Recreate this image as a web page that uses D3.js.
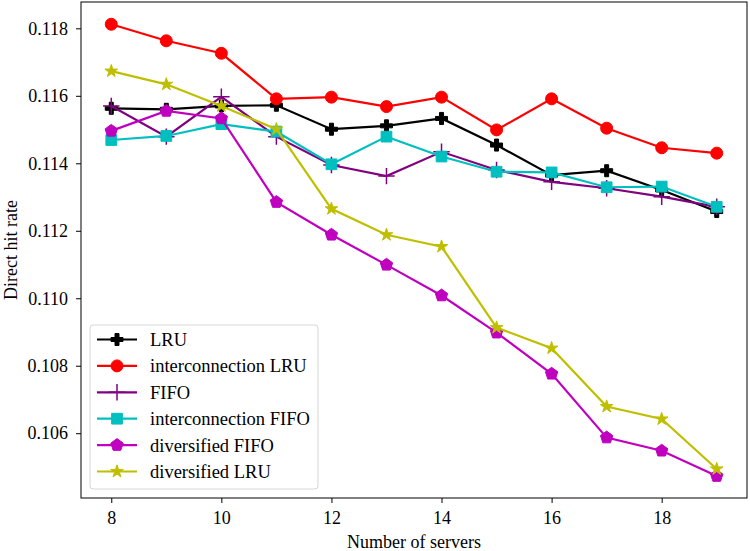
<!DOCTYPE html>
<html>
<head>
<meta charset="utf-8">
<script src="https://cdn.jsdelivr.net/npm/d3@7"></script>
<style>
  body { margin: 0; background: #fff; }
  svg { font-family: "Liberation Serif", "Times New Roman", serif; }
</style>
</head>
<body>
<div id="chart"></div>
<script>
// 1. DATA
const servers = [8, 9, 10, 11, 12, 13, 14, 15, 16, 17, 18, 19]
const lru = [0.11563, 0.11560, 0.11570, 0.11572, 0.11501, 0.11511, 0.11533, 0.11454, 0.11365, 0.11378, 0.11321, 0.11257]
const interLru = [0.11812, 0.11763, 0.11726, 0.11591, 0.11596, 0.11568, 0.11596, 0.11499, 0.11591, 0.11504, 0.11446, 0.11430]
const fifo = [0.11570, 0.11479, 0.11597, 0.11479, 0.11395, 0.11362, 0.11434, 0.11380, 0.11345, 0.11326, 0.11301, 0.11271]
const interFifo = [0.11469, 0.11481, 0.11516, 0.11494, 0.11397, 0.11479, 0.11420, 0.11375, 0.11373, 0.11329, 0.11331, 0.11271]
const divFifo = [0.11496, 0.11555, 0.11533, 0.11285, 0.11188, 0.11099, 0.11008, 0.10898, 0.10776, 0.10587, 0.10548, 0.10473]
const divLru = [0.11673, 0.11634, 0.11570, 0.11501, 0.11265, 0.11188, 0.11153, 0.10913, 0.10852, 0.10679, 0.10642, 0.10494]
const xTicks = [8, 10, 12, 14, 16, 18]
const yTicks = [0.106, 0.108, 0.110, 0.112, 0.114, 0.116, 0.118]

// pentagon path for the "diversified FIFO" marker
const pentagon = {
    draw(context, size) {
        const r = Math.sqrt(size / 2.378)
        for (let i = 0; i < 5; i++) {
            const a = -Math.PI / 2 + i * 2 * Math.PI / 5
            const px = r * Math.cos(a), py = r * Math.sin(a)
            if (i === 0) context.moveTo(px, py)
            else context.lineTo(px, py)
        }
        context.closePath()
    }
}

const series = [
    { name: "LRU", values: lru, color: "#000000", symbol: d3.symbolCross, size: 80, stroke: false },
    { name: "interconnection LRU", values: interLru, color: "#ff0000", symbol: d3.symbolCircle, size: 113, stroke: false },
    { name: "FIFO", values: fifo, color: "#800080", symbol: d3.symbolPlus, size: 90, stroke: true },
    { name: "interconnection FIFO", values: interFifo, color: "#00bfbf", symbol: d3.symbolSquare, size: 115, stroke: false },
    { name: "diversified FIFO", values: divFifo, color: "#bf00bf", symbol: pentagon, size: 100, stroke: false },
    { name: "diversified LRU", values: divLru, color: "#bfbf00", symbol: d3.symbolStar, size: 50, stroke: false }
]

// 2. DIMENSIONS
let dimensions = {
    width: 750,
    height: 551,
    margin: { top: 2, right: 3, bottom: 53, left: 81 }
}
dimensions.boundedWidth = dimensions.width - dimensions.margin.left - dimensions.margin.right
dimensions.boundedHeight = dimensions.height - dimensions.margin.top - dimensions.margin.bottom

// 3. DRAW CANVAS
const wrapper = d3.select("#chart")
    .append("svg")
    .attr("width", dimensions.width)
    .attr("height", dimensions.height)

const bounds = wrapper.append("g")
    .attr("transform", `translate(${dimensions.margin.left},${dimensions.margin.top})`)

// 4. SCALES
const xScale = d3.scaleLinear()
    .domain([7.45, 19.55])
    .range([0, dimensions.boundedWidth])

const yScale = d3.scaleLinear()
    .domain([0.10408, 0.11878])
    .range([dimensions.boundedHeight, 0])

// 5. DRAW DATA
const lineGenerator = d3.line()
    .x((d, i) => xScale(servers[i]))
    .y(d => yScale(d))

const drawMarker = (sel, s) => {
    sel.attr("d", d3.symbol().type(s.symbol).size(s.size)())
    if (s.stroke) {
        sel.attr("fill", "none").attr("stroke", s.color).attr("stroke-width", 1.5)
    } else {
        sel.attr("fill", s.color).attr("stroke", s.color).attr("stroke-width", 1)
    }
}

series.forEach(s => {
    const g = bounds.append("g")
    g.append("path")
        .attr("d", lineGenerator(s.values))
        .attr("fill", "none")
        .attr("stroke", s.color)
        .attr("stroke-width", 2.2)
    g.selectAll(".marker")
        .data(s.values)
        .join("path")
        .attr("class", "marker")
        .attr("transform", (d, i) => `translate(${xScale(servers[i])},${yScale(d)})`)
        .call(sel => drawMarker(sel, s))
})

// 6. PERIPHERALS
const xAxis = bounds.append("g")
    .attr("transform", `translate(0,${dimensions.boundedHeight})`)
    .call(d3.axisBottom(xScale).tickValues(xTicks).tickSize(5).tickPadding(8).tickFormat(d3.format("d")))
const yAxis = bounds.append("g")
    .call(d3.axisLeft(yScale).tickValues(yTicks).tickSize(5).tickPadding(8).tickFormat(d3.format(".3f")))

;[xAxis, yAxis].forEach(a => {
    a.select(".domain").remove()
    a.selectAll("text").attr("fill", "#000").style("font-size", "18px").style("font-family", "Liberation Serif")
    a.selectAll("line").attr("stroke", "#000")
})

bounds.append("rect")
    .attr("width", dimensions.boundedWidth)
    .attr("height", dimensions.boundedHeight)
    .attr("fill", "none")
    .attr("stroke", "#000")
    .attr("stroke-width", 1)

wrapper.append("text")
    .attr("x", dimensions.margin.left + dimensions.boundedWidth / 2)
    .attr("y", 548)
    .attr("text-anchor", "middle")
    .style("font-size", "18px")
    .text("Number of servers")

wrapper.append("text")
    .attr("transform", `translate(17,${dimensions.margin.top + dimensions.boundedHeight / 2}) rotate(-90)`)
    .attr("text-anchor", "middle")
    .style("font-size", "18px")
    .text("Direct hit rate")

// legend
const legendGroup = wrapper.append("g")
    .attr("transform", "translate(90,325)")

legendGroup.append("rect")
    .attr("width", 228)
    .attr("height", 164)
    .attr("rx", 3)
    .attr("fill", "#fff")
    .attr("fill-opacity", 0.8)
    .attr("stroke", "#d6d6d6")

series.forEach((s, i) => {
    const y = 14.5 + i * 26.4
    legendGroup.append("line")
        .attr("x1", 7).attr("x2", 47)
        .attr("y1", y).attr("y2", y)
        .attr("stroke", s.color)
        .attr("stroke-width", 2.2)
    legendGroup.append("path")
        .attr("transform", `translate(27,${y})`)
        .call(sel => drawMarker(sel, s))
    legendGroup.append("text")
        .attr("x", 60)
        .attr("y", y)
        .attr("dy", "0.35em")
        .style("font-size", "18.5px")
        .text(s.name)
})
</script>
</body>
</html>
